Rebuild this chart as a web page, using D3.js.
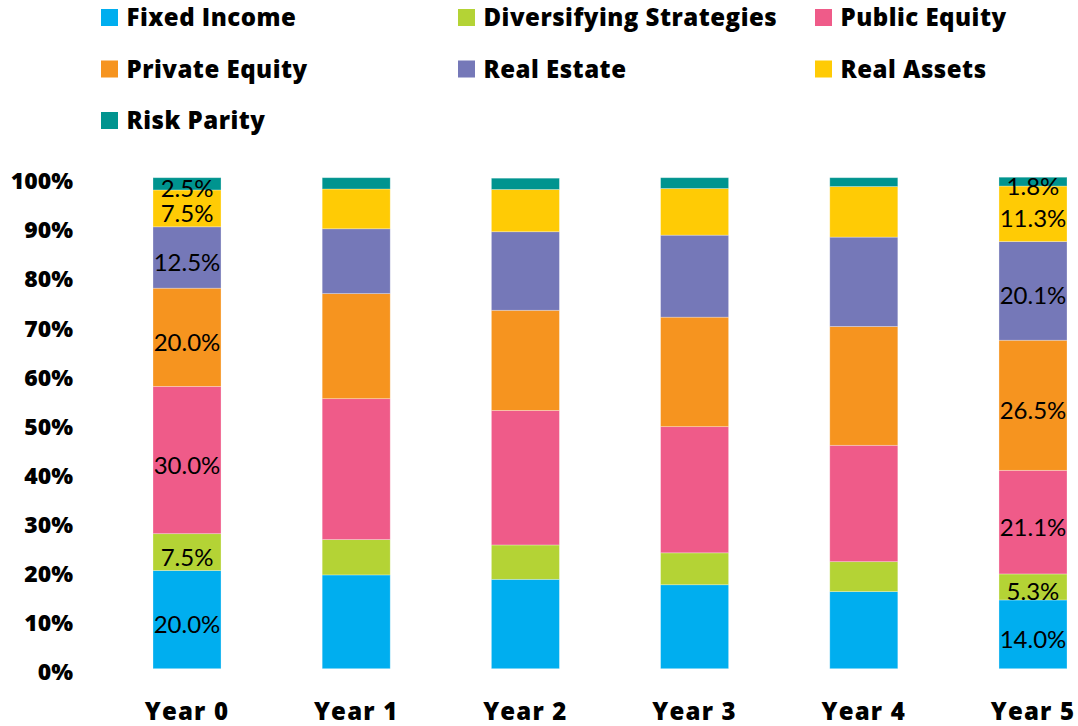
<!DOCTYPE html>
<html>
<head>
<meta charset="utf-8">
<script src="https://cdn.jsdelivr.net/npm/d3@7"></script>
<style>
  body { margin: 0; background: #fff; }
  #chart text { fill: #000; }
</style>
</head>
<body>
<div id="chart"></div>
<script>
// data (percent of portfolio)
const years = ["Year 0", "Year 1", "Year 2", "Year 3", "Year 4", "Year 5"];
const categories = ["Fixed Income", "Diversifying Strategies", "Public Equity",
  "Private Equity", "Real Estate", "Real Assets", "Risk Parity"];
const fixedIncome   = [20.0, 19.1, 18.2, 17.1, 15.7, 14.0];
const diversifying  = [7.5, 7.2, 7.0, 6.5, 6.1, 5.3];
const publicEquity  = [30.0, 28.7, 27.4, 25.7, 23.7, 21.1];
const privateEquity = [20.0, 21.4, 20.4, 22.3, 24.2, 26.5];
const realEstate    = [12.5, 13.2, 16.0, 16.7, 18.2, 20.1];
const realAssets    = [7.5, 8.1, 8.6, 9.5, 10.3, 11.3];
const riskParity    = [2.5, 2.3, 2.3, 2.2, 1.8, 1.8];
const yTicks = [0, 10, 20, 30, 40, 50, 60, 70, 80, 90, 100];
const labelledYears = ["Year 0", "Year 5"]; // only these bars carry value labels

const colors = ["#00AEEF", "#B4D335", "#EF5B89", "#F6941F", "#7578B8", "#FFCB05", "#00948F"];
const seriesValues = [fixedIncome, diversifying, publicEquity, privateEquity, realEstate, realAssets, riskParity];

const width = 1078, height = 726;
const boldFont = "'Open Sans', 'DejaVu Sans', sans-serif";
const lightFont = "Lato, 'Open Sans', sans-serif";

const svg = d3.select("#chart").append("svg")
  .attr("width", width)
  .attr("height", height);

// rows: one object per year, keyed by category
const rows = years.map((yr, i) => {
  const r = { year: yr };
  categories.forEach((c, k) => { r[c] = seriesValues[k][i]; });
  return r;
});
const stacked = d3.stack().keys(categories)(rows);

const color = d3.scaleOrdinal().domain(categories).range(colors);

const xScale = d3.scaleBand()
  .domain(years)
  .range([153, 1067])
  .paddingInner(0.598)
  .paddingOuter(0);

const yScale = d3.scaleLinear()
  .domain([0, 100])
  .range([668.7, 177.7]);

// bars
const layers = svg.append("g").selectAll("g")
  .data(stacked)
  .join("g")
  .attr("fill", d => color(d.key));

layers.selectAll("rect")
  .data(d => d)
  .join("rect")
  .attr("x", d => xScale(d.data.year))
  .attr("y", d => yScale(d[1]))
  .attr("width", xScale.bandwidth())
  .attr("height", d => yScale(d[0]) - yScale(d[1]))
  .attr("stroke", "#fff")
  .attr("stroke-opacity", 0.35)
  .attr("stroke-width", 0.8);

// value labels on first and last bar
layers.selectAll("text")
  .data(d => d.filter(p => labelledYears.includes(p.data.year)).map(p => ({ p, key: d.key })))
  .join("text")
  .attr("x", d => xScale(d.p.data.year) + xScale.bandwidth() / 2)
  .attr("y", d => (yScale(d.p[0]) + yScale(d.p[1])) / 2 + 4)
  .attr("text-anchor", "middle")
  .attr("dominant-baseline", "central")
  .style("font-family", lightFont)
  .style("font-weight", 400)
  .style("font-size", "24px")
  .attr("fill", "#000")
  .text(d => d.p.data[d.key].toFixed(1) + "%");

// y axis
const yAxis = d3.axisLeft(yScale)
  .tickValues(yTicks)
  .tickFormat(d => d + "%")
  .tickSize(0)
  .tickPadding(7);

svg.append("g")
  .attr("transform", "translate(80,0)")
  .call(yAxis)
  .call(g => g.select(".domain").remove())
  .selectAll("text")
  .attr("dy", "0.48em")
  .style("font-family", boldFont)
  .style("font-weight", 800)
  .style("font-size", "23px")
  .attr("fill", "#000");

// x axis
const xAxis = d3.axisBottom(xScale).tickSize(0).tickPadding(34);

svg.append("g")
  .attr("transform", "translate(0,668.7)")
  .call(xAxis)
  .call(g => g.select(".domain").remove())
  .selectAll("text")
  .style("font-family", boldFont)
  .style("font-weight", 800)
  .style("font-size", "24px")
  .style("letter-spacing", "1.2px")
  .attr("fill", "#000");

// legend, 3 columns
const legendCols = [101, 458, 815];
const legend = svg.append("g").attr("class", "legend");

const items = legend.selectAll("g")
  .data(categories)
  .join("g")
  .attr("transform", (d, i) => `translate(${legendCols[i % 3]}, ${9 + Math.floor(i / 3) * 51.5})`);

items.append("rect")
  .attr("width", 17)
  .attr("height", 17)
  .attr("fill", d => color(d));

items.append("text")
  .attr("x", 25.5)
  .attr("y", 17)
  .text(d => d)
  .style("font-family", boldFont)
  .style("font-weight", 800)
  .style("font-size", "24px")
  .style("letter-spacing", "0.5px")
  .attr("fill", "#000");
</script>
</body>
</html>
